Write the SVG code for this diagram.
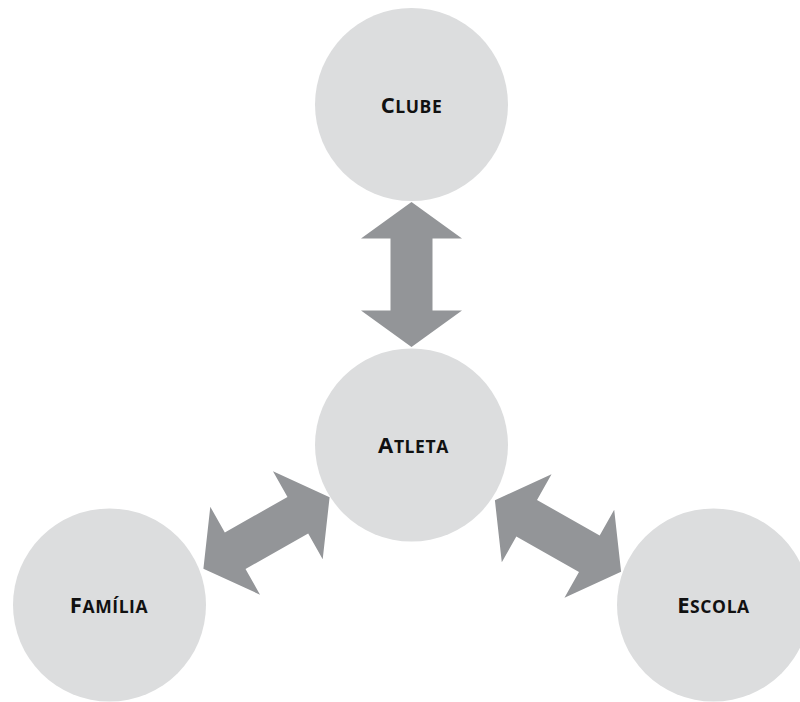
<svg xmlns="http://www.w3.org/2000/svg" width="800" height="702" viewBox="0 0 800 702">
  <style>
    .node circle { fill: #dcddde; }
    .arrow { fill: #939598; }
    .label { font-family: "Open Sans", "DejaVu Sans", sans-serif; font-weight: 700; font-size: 22px; letter-spacing: 0.6px; fill: #111; text-anchor: middle; }
    .sc { font-size: 17.5px; }
  </style>
  <defs>
    <!-- double-headed block arrow, centred on the origin, pointing up/down -->
    <path id="dbl" d="M0,-72.5 L50.5,-36 L21,-36 L21,36 L50.5,36 L0,72.5 L-50.5,36 L-21,36 L-21,-36 L-50.5,-36 Z"/>
  </defs>
  <rect width="800" height="702" fill="#ffffff"/>

  <g id="connectors">
    <use href="#dbl" class="arrow" transform="translate(411.5,274.5)"/>
    <use href="#dbl" class="arrow" transform="translate(266.5,533) rotate(60.5)"/>
    <use href="#dbl" class="arrow" transform="translate(558,536) rotate(-60.5)"/>
  </g>

  <g id="clube" class="node">
    <circle cx="411.5" cy="104.5" r="96.5"/>
    <text class="label" x="411.5" y="113">C<tspan class="sc">LUBE</tspan></text>
  </g>
  <g id="atleta" class="node">
    <circle cx="411.5" cy="445" r="96.5"/>
    <text class="label" x="413.5" y="453">A<tspan class="sc">TLETA</tspan></text>
  </g>
  <g id="familia" class="node">
    <circle cx="109.5" cy="605" r="96.5"/>
    <text class="label" x="109" y="613">F<tspan class="sc">AMÍLIA</tspan></text>
  </g>
  <g id="escola" class="node">
    <circle cx="713.5" cy="605" r="96.5"/>
    <text class="label" x="713.5" y="613">E<tspan class="sc">SCOLA</tspan></text>
  </g>
</svg>
